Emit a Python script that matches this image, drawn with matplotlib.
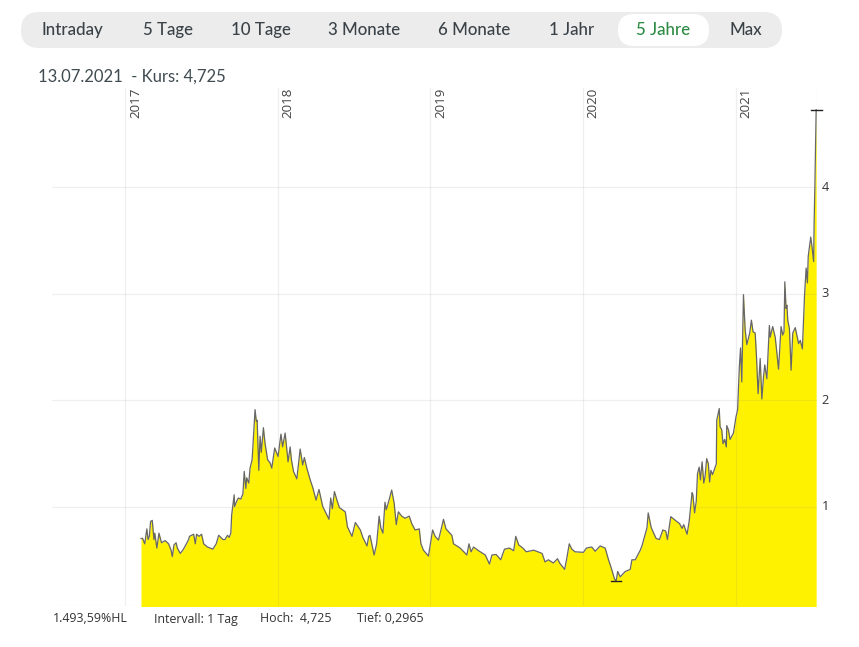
import matplotlib
matplotlib.use("Agg")
import matplotlib.pyplot as plt
from matplotlib.patches import FancyBboxPatch
import numpy as np
import pandas as pd

W, H = 859, 647

buttons = ["Intraday", "5 Tage", "10 Tage", "3 Monate", "6 Monate", "1 Jahr", "5 Jahre", "Max"]
active_button = "5 Jahre"
years = [2017, 2018, 2019, 2020, 2021]
y_ticks = [1, 2, 3, 4]
headline = "13.07.2021  - Kurs: 4,725"
footer = ["1.493,59%HL", "Intervall: 1 Tag", "Hoch:  4,725", "Tief: 0,2965"]
high_value = 4.725
low_value = 0.2965

day_offset = [
    38, 42, 47, 52, 55, 58, 61, 65, 69, 71, 76, 81, 87, 96, 104, 110, 113, 117, 122, 125,
    132, 138, 144, 152, 154, 164, 168, 171, 177, 183, 188, 197, 210, 218, 224, 234, 239, 245, 249, 253,
    255, 261, 262, 267, 271, 277, 282, 285, 289, 291, 296, 299, 304, 311, 314, 316, 320, 323, 326, 331,
    335, 341, 347, 351, 358, 366, 373, 377, 383, 390, 395, 398, 403, 411, 419, 425, 429, 435, 443, 449,
    457, 464, 473, 483, 488, 492, 496, 501, 507, 513, 527, 532, 543, 551, 563, 569, 579, 583, 586,
    596, 602, 608, 612, 617, 622, 625, 631, 638, 644, 649, 654, 662, 670, 680, 686, 694, 704, 708, 714,
    726, 736, 742, 750, 756, 762, 768, 782, 786, 802, 818, 823, 828, 834, 846, 862, 872, 878, 888, 899,
    908, 920, 930, 935, 942, 952, 960, 978, 998, 1005, 1013, 1025, 1035, 1040, 1052, 1057, 1063, 1069, 1077,
    1097, 1104, 1117, 1125, 1137, 1149, 1157, 1163, 1171, 1175, 1179, 1185, 1197, 1209, 1213, 1221, 1233, 1237,
    1249, 1252, 1259, 1265, 1271, 1279, 1287, 1294, 1298, 1306, 1317, 1327, 1333, 1337, 1345, 1350,
    1357, 1359, 1363, 1367, 1370, 1374, 1377, 1381, 1385, 1388, 1392, 1396, 1399, 1402, 1406, 1415, 1416,
    1422, 1424, 1428, 1431, 1435, 1439, 1440, 1444, 1448, 1456, 1462, 1466, 1470, 1473, 1476, 1480, 1484,
    1488, 1495, 1499, 1503, 1508, 1511, 1515, 1520, 1524, 1528, 1531, 1536, 1542, 1544, 1550, 1556, 1564,
    1570, 1574, 1577, 1579, 1582, 1584, 1586, 1590, 1594, 1598, 1604, 1612, 1616, 1621, 1626, 1630, 1633,
    1635, 1641, 1644, 1648, 1649, 1651, 1653, 1654,
]
price = [
    0.70, 0.70, 0.65, 0.79, 0.69, 0.72, 0.86, 0.87, 0.69, 0.75, 0.61, 0.75, 0.66, 0.68, 0.65, 0.59, 0.53, 0.64, 0.66, 0.61,
    0.56, 0.59, 0.63, 0.69, 0.72, 0.74, 0.65, 0.74, 0.72, 0.74, 0.65, 0.62, 0.60, 0.65, 0.73, 0.69, 0.69, 0.73, 0.71, 0.75,
    0.92, 1.11, 1.00, 1.05, 1.08, 1.07, 1.12, 1.33, 1.17, 1.27, 1.22, 1.36, 1.44, 1.91, 1.80, 1.81, 1.34, 1.66, 1.51, 1.74,
    1.59, 1.44, 1.41, 1.36, 1.55, 1.47, 1.68, 1.56, 1.69, 1.42, 1.56, 1.44, 1.33, 1.26, 1.54, 1.39, 1.46, 1.36, 1.25, 1.18,
    1.06, 1.16, 1.00, 0.92, 0.88, 1.08, 0.98, 1.14, 1.06, 0.99, 0.95, 0.81, 0.72, 0.85, 0.78, 0.71, 0.63, 0.72, 0.73,
    0.545, 0.65, 0.91, 0.80, 0.75, 1.04, 0.97, 1.05, 1.155, 1.03, 0.83, 0.95, 0.91, 0.89, 0.91, 0.84, 0.78, 0.79, 0.65, 0.59,
    0.535, 0.78, 0.72, 0.685, 0.78, 0.88, 0.79, 0.73, 0.65, 0.61, 0.545, 0.65, 0.575, 0.62, 0.585, 0.545, 0.46, 0.545, 0.55, 0.50,
    0.60, 0.61, 0.585, 0.72, 0.64, 0.61, 0.575, 0.59, 0.56, 0.48, 0.50, 0.47, 0.51, 0.47, 0.41, 0.51, 0.65, 0.60, 0.575,
    0.57, 0.61, 0.62, 0.58, 0.63, 0.61, 0.50, 0.43, 0.325, 0.2965, 0.39, 0.34, 0.39, 0.41, 0.50, 0.50, 0.59, 0.63,
    0.80, 0.94, 0.805, 0.75, 0.70, 0.69, 0.78, 0.77, 0.69, 0.905, 0.87, 0.84, 0.795, 0.83, 0.74, 0.86,
    1.13, 1.11, 0.94, 1.05, 1.31, 1.37, 1.25, 1.42, 1.22, 1.28, 1.45, 1.40, 1.23, 1.34, 1.30, 1.40, 1.81,
    1.92, 1.75, 1.72, 1.59, 1.63, 1.56, 1.76, 1.72, 1.63, 1.69, 1.84, 1.91, 2.30, 2.49, 2.17, 2.99, 2.66,
    2.52, 2.63, 2.75, 2.64, 2.63, 2.42, 2.06, 2.39, 2.01, 2.22, 2.33, 2.20, 2.70, 2.59, 2.69, 2.59, 2.29,
    2.69, 2.61, 2.64, 3.11, 2.86, 2.89, 2.75, 2.67, 2.28, 2.63, 2.68, 2.53, 2.56, 2.48, 2.97, 3.24, 3.10,
    3.35, 3.53, 3.44, 3.30, 3.63, 4.03, 4.50, 4.725,
]

start = pd.Timestamp("2017-01-01")
dates = start + pd.to_timedelta(day_offset, unit="D")
low_date = dates[int(np.argmin(price))]
high_date = dates[int(np.argmax(price))]

fig = plt.figure(figsize=(W / 100, H / 100), dpi=100, facecolor="white")

# page furniture in pixel coordinates
bg = fig.add_axes([0, 0, 1, 1])
bg.set_xlim(0, W)
bg.set_ylim(H, 0)
bg.axis("off")
bg.add_patch(FancyBboxPatch((21, 12), 761, 36, boxstyle="round,pad=0,rounding_size=18",
                            fc="#ececec", ec="none"))
bg.add_patch(FancyBboxPatch((618, 14), 91, 32, boxstyle="round,pad=0,rounding_size=16",
                            fc="white", ec="none"))
btn_x = [72.5, 168, 261, 364, 474, 572, 663.5, 746]
for label, x in zip(buttons, btn_x):
    on = label == active_button
    bg.text(x, 30, label, ha="center", va="center", family="Lato", fontsize=12.2,
            fontweight="medium", color="#2e8b45" if on else "#3a4248")
bg.text(38, 76.5, headline, ha="left", va="center", family="Lato", fontsize=12, color="#3f4b50")

foot_x = [53, 154, 260, 357]
for label, x in zip(footer, foot_x):
    bg.text(x, 619, label, ha="left", va="center", family="Open Sans", fontsize=8.9, color="#333333")

# chart: px 52..817 horizontally, px 88..606 vertically
left, right, top, bottom = 52, 817, 88, 606
ax = fig.add_axes([left / W, 1 - bottom / H, (right - left) / W, (bottom - top) / H])
ax.patch.set_alpha(0)
ax.set_xlim(start + pd.Timedelta(days=-175), start + pd.Timedelta(days=1656))
ax.set_ylim(0.066, 4.93)
ax.fill_between(dates, price, 0, color="#fff200", lw=0, zorder=2)
ax.plot(dates, price, color="#666666", lw=0.9, zorder=3, solid_joinstyle="round")

yr_dates = [pd.Timestamp(f"{y}-01-01") for y in years]
grid = dict(color="#888888", alpha=0.13, lw=0.9, zorder=4)
for d in yr_dates:
    ax.axvline(d, **grid)
for v in y_ticks:
    ax.axhline(v, **grid)
ax.axhline(0.066, **grid)
ax.axvline(ax.get_xlim()[1], ymin=0.94, **grid)

for s in ax.spines.values():
    s.set_visible(False)
ax.set_xticks([])
ax.set_yticks([])

for y, d in zip(years, yr_dates):
    ax.annotate(str(y), (d, 1), xycoords=("data", "axes fraction"), xytext=(7.4, 0),
                textcoords="offset points", rotation=90, ha="center", va="top",
                family="Open Sans", fontsize=9.6, color="#444444", annotation_clip=False)
for v in y_ticks:
    ax.annotate(str(v), (1, v), xycoords=("axes fraction", "data"), xytext=(3.5, 0),
                textcoords="offset points", ha="left", va="center",
                family="Open Sans", fontsize=9.2, color="#333333", annotation_clip=False)

# high and low markers
cap = pd.Timedelta(days=13)
ax.plot([high_date - cap, high_date + cap], [high_value, high_value], color="#222222", lw=1, zorder=5, clip_on=False)
ax.plot([low_date - cap, low_date + cap], [low_value, low_value], color="#222222", lw=1, zorder=5)

fig.savefig("out.png", dpi=100)
